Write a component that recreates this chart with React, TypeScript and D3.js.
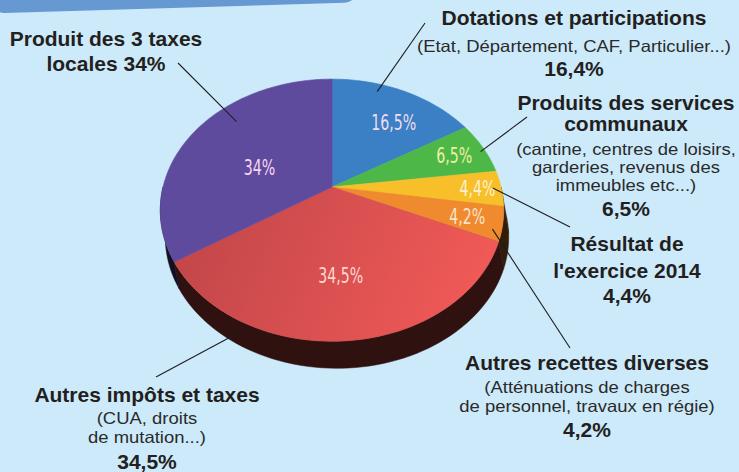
import React from 'react'
import * as d3 from 'd3'

// slices, clockwise from 12 o'clock
const values = [16.5, 6.5, 4.4, 4.2, 34.5, 34]
const colors = ['#3b7fc5', '#4db848', '#f7c02a', '#ef8a2e', '#e0504b', '#5f4b9e']
const inkColors = ['#f1dcef', '#f2efa2', '#fff1cf', '#fde2cc', '#fbd9d2', '#f6d6ee']

const titles = [
  ['Dotations et participations'],
  ['Produits des services', 'communaux'],
  ['Résultat de', "l'exercice 2014"],
  ['Autres recettes diverses'],
  ['Autres impôts et taxes'],
  ['Produit des 3 taxes', 'locales 34%'],
]
const details = [
  ['(Etat, Département, CAF, Particulier...)'],
  ['(cantine, centres de loisirs,', 'garderies, revenus des', 'immeubles etc...)'],
  [],
  ['(Atténuations de charges', 'de personnel, travaux en régie)'],
  ['(CUA, droits', 'de mutation...)'],
  [],
]
const shares = ['16,4%', '6,5%', '4,4%', '4,2%', '34,5%', '']

// layout of the annotation blocks (centre x, baselines)
const blocks = [
  { x: 574, title: [25], detail: [52], share: 76, end: [425, 23] },
  { x: 626, title: [110, 131], detail: [155, 173, 191], share: 216, end: [527, 117] },
  { x: 627, title: [251, 278], detail: [], share: 303, end: [570, 227] },
  { x: 587, title: [370], detail: [393, 412], share: 437, end: [570, 348] },
  { x: 147, title: [402], detail: [424, 443], share: 469, end: [156, 377] },
  { x: 106, title: [46, 71], detail: [], share: 0, end: [178, 63] },
]
// where the leader touches the slice: [fraction along slice, radius]
const anchors = [[0.33, 0.92], [0.56, 0.97], [0.49, 0.95], [0.71, 0.95], [0.74, 1.05], [0.61, 0.84]]
const labelSpots = [[0.6, 0.69], [0.5, 0.8], [0.5, 0.86], [0.5, 0.8], [0.5, 0.62], [0.43, 0.47]]

const W = 739
const H = 472
const cx = 332
const cy = 187
const rx = 169
const ry = 127
const persp = 0.177
const depth = 27
const shift = 5

const proj = (t: number, r = 1): [number, number] => {
  const s = Math.sin(t) * r
  const c = Math.cos(t) * r
  const w = 1 + persp * c
  return [cx + (rx * s) / w, cy - (ry * c) / w]
}

const arcPts = (a0: number, a1: number, r = 1, off = [0, 0]) => {
  const n = Math.max(2, Math.ceil(((a1 - a0) / Math.PI) * 90))
  return d3.range(n + 1).map(i => {
    const p = proj(a0 + ((a1 - a0) * i) / n, r)
    return [p[0] + off[0], p[1] + off[1]] as [number, number]
  })
}

const line = d3.line()

export default function App() {
  const arcs = d3.pie<number>().sort(null).value(d => d)(values)
  const sideA = Math.PI * 0.5
  const sideB = Math.PI * 1.5
  const fmt = (v: number) => String(v).replace('.', ',') + '%'

  return (
    <svg width={W} height={H} style={{ position: 'absolute', left: 0, top: 0 }}
      fontFamily="'Liberation Sans', Arial, sans-serif">
      <defs>
        <linearGradient id="redg" gradientUnits="userSpaceOnUse" x1={200} y1={220} x2={470} y2={330}>
          <stop offset="0" stopColor="#c4474a" />
          <stop offset="1" stopColor="#f15a57" />
        </linearGradient>
      </defs>
      <rect width={W} height={H} fill="#cdeafa" />
      <rect x={-10} y={-40} width={368} height={53} rx={14} fill="#6699d1" transform="rotate(-1.7)" />

      {/* side wall */}
      {arcs.map((a, i) => {
        const a0 = Math.max(a.startAngle, sideA)
        const a1 = Math.min(a.endAngle, sideB)
        if (a1 <= a0) return null
        const top = arcPts(a0, a1)
        const bot = arcPts(a0, a1, 1, [shift, depth]).reverse()
        const c = d3.color(colors[i])!.darker(4.4).formatHex()
        return <path key={'s' + i} d={line([...top, ...bot])! + 'Z'} fill={c} stroke={c} strokeWidth={0.5} />
      })}

      {/* top face */}
      {arcs.map((a, i) => {
        const pts = [[cx, cy] as [number, number], ...arcPts(a.startAngle, a.endAngle)]
        return <path key={'t' + i} d={line(pts)! + 'Z'} fill={i === 4 ? 'url(#redg)' : colors[i]}
          stroke={i === 4 ? '#d24e4c' : colors[i]} strokeWidth={0.6} />
      })}

      {arcs.map((a, i) => {
        const [f, r] = labelSpots[i]
        const p = proj(a.startAngle + (a.endAngle - a.startAngle) * f, r)
        return (
          <text key={'v' + i} x={p[0]} y={p[1] + 8} textAnchor="middle" fill={inkColors[i]}
            fontFamily="'DejaVu Sans Condensed', 'DejaVu Sans', sans-serif" fontSize={21}
            transform={`translate(${p[0]},0) scale(0.75,1) translate(${-p[0]},0)`}>
            {fmt(values[i])}
          </text>
        )
      })}

      {/* leaders */}
      {arcs.map((a, i) => {
        const [f, r] = anchors[i]
        const p = proj(a.startAngle + (a.endAngle - a.startAngle) * f, r)
        const e = blocks[i].end
        return <line key={'l' + i} x1={p[0]} y1={p[1]} x2={e[0]} y2={e[1]} stroke="#1e1e1e" strokeWidth={1.1} />
      })}

      {blocks.map((b, i) => (
        <g key={'b' + i} textAnchor="middle" fill="#231f20">
          {titles[i].map((t, j) => (
            <text key={j} x={b.x} y={b.title[j]} fontSize={21} fontWeight="bold">{t}</text>
          ))}
          {details[i].map((t, j) => (
            <text key={j} x={b.x} y={b.detail[j]} fontSize={16.5} fill="#2a2a2a"
              transform={`translate(${b.x},0) scale(1.12,1) translate(${-b.x},0)`}>{t}</text>
          ))}
          {shares[i] && <text x={b.x} y={b.share} fontSize={21} fontWeight="bold">{shares[i]}</text>}
        </g>
      ))}
    </svg>
  )
}
